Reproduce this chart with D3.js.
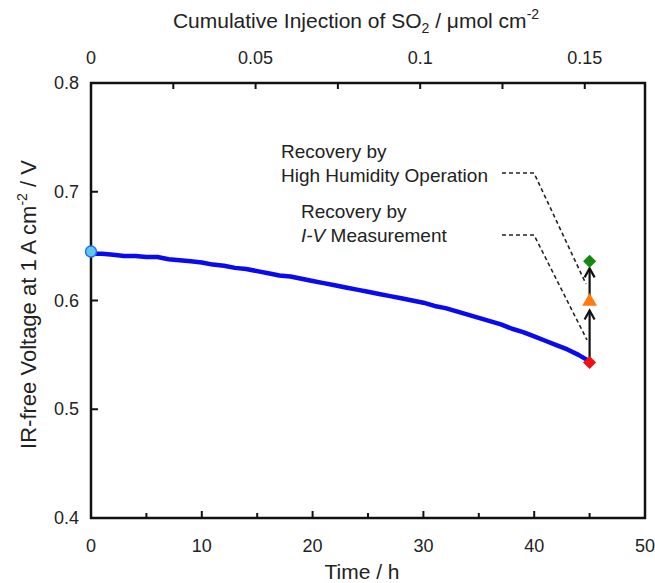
<!DOCTYPE html>
<html>
<head>
<meta charset="utf-8">
<script src="https://cdn.jsdelivr.net/npm/d3@7"></script>
<style>
  body { margin: 0; background: #fff; }
  text { font-family: "Liberation Sans", Arial, sans-serif; fill: #222; }
</style>
</head>
<body>
<div id="main"></div>
<script>
const ctx = {
    w: 655,
    h: 583,
    left: 91,
    top: 83,
    right: 645,
    bottom: 518,
};

// time (h) and IR-free voltage (V)
const hours = [0, 1, 2, 3, 4, 5, 6, 7, 8, 9, 10, 11, 12, 13, 14, 15, 16, 17, 18, 19, 20,
               21, 22, 23, 24, 25, 26, 27, 28, 29, 30, 31, 32, 33, 34, 35, 36, 37, 38, 39, 40,
               41, 42, 43, 44, 45];
const voltage = [0.643, 0.643, 0.642, 0.641, 0.641, 0.640, 0.640, 0.638, 0.637, 0.636, 0.635,
                 0.633, 0.632, 0.630, 0.629, 0.627, 0.625, 0.623, 0.622, 0.620, 0.618,
                 0.616, 0.614, 0.612, 0.610, 0.608, 0.606, 0.604, 0.602, 0.600, 0.598,
                 0.595, 0.593, 0.590, 0.587, 0.584, 0.581, 0.578, 0.574, 0.571, 0.567,
                 0.563, 0.559, 0.555, 0.550, 0.544];

// single markers: start, after SO2, after I-V, after high humidity
const startPoint = {t: 0, v: 0.645};
const endTime = 45;
const afterSO2 = 0.543;
const afterIV = 0.599;
const afterHumid = 0.636;

const xTicks = [0, 10, 20, 30, 40, 50];
const xMinor = [5, 15, 25, 35, 45];
const yTicks = [0.4, 0.5, 0.6, 0.7, 0.8];
const topTicks = [0, 0.05, 0.1, 0.15];
const topMinor = [0.025, 0.075, 0.125];

const notes = [
    {lines: ["Recovery by", "High Humidity Operation"], x: 281, y: 158, dashY: 173, end: [586, 284]},
    {lines: ["Recovery by", "I-V Measurement"], x: 301, y: 218, dashY: 235, end: [587, 340]},
];

function createViz(){
    let svgEl = d3.select("#main").append("svg")
                  .attr("width", ctx.w)
                  .attr("height", ctx.h);

    const x = d3.scaleLinear().domain([0, 50]).range([ctx.left, ctx.right]);
    const y = d3.scaleLinear().domain([0.4, 0.8]).range([ctx.bottom, ctx.top]);
    // top axis: 0.15 umol cm-2 sits at ~45 h
    const xTop = d3.scaleLinear().domain([0, 0.1683]).range([ctx.left, ctx.right]);

    // frame
    svgEl.append("rect")
         .attr("x", ctx.left).attr("y", ctx.top)
         .attr("width", ctx.right - ctx.left).attr("height", ctx.bottom - ctx.top)
         .attr("fill", "none").attr("stroke", "#111").attr("stroke-width", 2.5);

    // bottom axis, ticks inward
    let gx = svgEl.append("g");
    gx.selectAll("line.maj").data(xTicks.slice(1, -1)).enter().append("line")
      .attr("x1", d => x(d)).attr("x2", d => x(d))
      .attr("y1", ctx.bottom).attr("y2", ctx.bottom - 7)
      .attr("stroke", "#111").attr("stroke-width", 2);
    gx.selectAll("line.min").data(xMinor).enter().append("line")
      .attr("x1", d => x(d)).attr("x2", d => x(d))
      .attr("y1", ctx.bottom).attr("y2", ctx.bottom - 5)
      .attr("stroke", "#111").attr("stroke-width", 2);
    gx.selectAll("text").data(xTicks).enter().append("text")
      .attr("x", d => x(d)).attr("y", ctx.bottom + 34)
      .attr("text-anchor", "middle").attr("font-size", 18)
      .text(d => d);

    // top axis
    let gt = svgEl.append("g");
    gt.selectAll("line").data(topTicks.slice(1).concat(topMinor)).enter().append("line")
      .attr("x1", d => xTop(d)).attr("x2", d => xTop(d))
      .attr("y1", ctx.top).attr("y2", ctx.top + 6)
      .attr("stroke", "#111").attr("stroke-width", 2);
    gt.selectAll("text").data(topTicks).enter().append("text")
      .attr("x", d => xTop(d)).attr("y", ctx.top - 19)
      .attr("text-anchor", "middle").attr("font-size", 18)
      .text(d => d);

    // left axis
    let gy = svgEl.append("g");
    gy.selectAll("line").data(yTicks.slice(1, -1)).enter().append("line")
      .attr("x1", ctx.left).attr("x2", ctx.left + 7)
      .attr("y1", d => y(d)).attr("y2", d => y(d))
      .attr("stroke", "#111").attr("stroke-width", 2);
    gy.selectAll("text").data(yTicks).enter().append("text")
      .attr("x", ctx.left - 12).attr("y", d => y(d) + 6)
      .attr("text-anchor", "end").attr("font-size", 18)
      .text(d => d.toFixed(1));

    // axis titles
    svgEl.append("text")
         .attr("x", (ctx.left + ctx.right) / 2 - 6).attr("y", ctx.h - 4)
         .attr("text-anchor", "middle").attr("font-size", 21)
         .text("Time / h");

    let tt = svgEl.append("text")
                  .attr("x", (ctx.left + ctx.right) / 2 - 12).attr("y", 28)
                  .attr("text-anchor", "middle").attr("font-size", 21);
    tt.append("tspan").text("Cumulative Injection of SO");
    tt.append("tspan").attr("font-size", 14).attr("dy", 5).text("2");
    tt.append("tspan").attr("dy", -5).text(" / \u03bcmol cm");
    tt.append("tspan").attr("font-size", 14).attr("dy", -9).text("-2");

    let yt = svgEl.append("text")
                  .attr("transform", `translate(36,${(ctx.top + ctx.bottom) / 2 + 4}) rotate(-90)`)
                  .attr("text-anchor", "middle").attr("font-size", 22);
    yt.append("tspan").text("IR-free Voltage at 1 A cm");
    yt.append("tspan").attr("font-size", 14).attr("dy", -9).text("-2");
    yt.append("tspan").attr("dy", 9).text(" / V");

    // voltage trace
    const lineGen = d3.line()
                      .x((d, i) => x(hours[i]))
                      .y(d => y(d));
    svgEl.append("path")
         .attr("d", lineGen(voltage))
         .attr("fill", "none")
         .attr("stroke", "#0a0af0")
         .attr("stroke-width", 4.5)
         .attr("stroke-linejoin", "round");

    svgEl.append("circle")
         .attr("cx", x(startPoint.t)).attr("cy", y(startPoint.v)).attr("r", 5.5)
         .attr("fill", "#5bc8f5").attr("stroke", "#2a6fdc").attr("stroke-width", 1.5);

    // dashed leaders + notes
    notes.forEach(function(n){
        let t = svgEl.append("text").attr("x", n.x).attr("y", n.y).attr("font-size", 19);
        t.text(n.lines[0]);
        let t2 = svgEl.append("text").attr("x", n.x).attr("y", n.y + 24).attr("font-size", 19);
        if (n.lines[1].startsWith("I-V")){
            t2.append("tspan").attr("font-style", "italic").text("I-V");
            t2.append("tspan").text(" Measurement");
        } else {
            t2.text(n.lines[1]);
        }
        svgEl.append("path")
             .attr("d", `M502,${n.dashY} L534,${n.dashY} L${n.end[0]},${n.end[1]}`)
             .attr("fill", "none").attr("stroke", "#222")
             .attr("stroke-width", 1.6).attr("stroke-dasharray", "4,3");
    });

    // recovery arrows
    const xe = x(endTime);
    const seg = [[afterSO2, afterIV, 9], [afterIV, afterHumid, 7]];
    seg.forEach(function(s){
        let y0 = y(s[0]) - 4;
        let tip = y(s[1]) + s[2];
        svgEl.append("line")
             .attr("x1", xe).attr("x2", xe).attr("y1", y0).attr("y2", tip)
             .attr("stroke", "#111").attr("stroke-width", 2.2);
        svgEl.append("path")
             .attr("d", `M${xe - 5},${tip + 9} L${xe},${tip} L${xe + 5},${tip + 9}`)
             .attr("fill", "none").attr("stroke", "#111").attr("stroke-width", 2.2);
    });

    const diamond = d3.symbol().type(d3.symbolSquare).size(85);
    const tri = d3.symbol().type(d3.symbolTriangle).size(95);
    svgEl.append("path").attr("d", diamond())
         .attr("transform", `translate(${xe},${y(afterSO2)}) rotate(45)`).attr("fill", "#f01010");
    svgEl.append("path").attr("d", tri())
         .attr("transform", `translate(${xe},${y(afterIV)})`).attr("fill", "#ff7a10");
    svgEl.append("path").attr("d", diamond())
         .attr("transform", `translate(${xe},${y(afterHumid)}) rotate(45)`).attr("fill", "#128a12");
}

createViz();
</script>
</body>
</html>
